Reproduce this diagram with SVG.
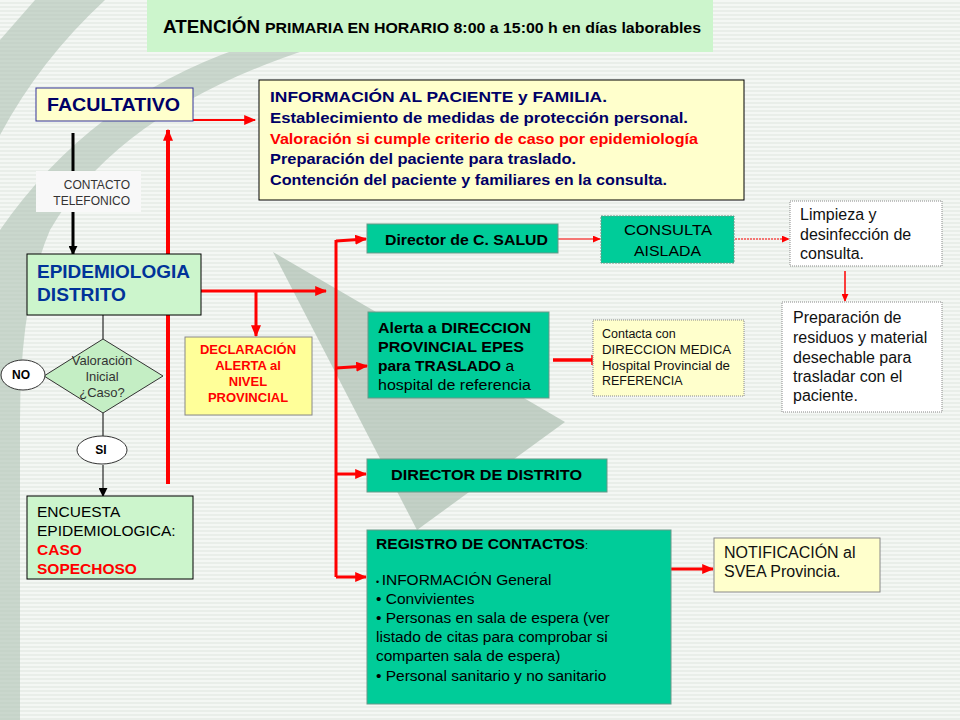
<svg xmlns="http://www.w3.org/2000/svg" width="960" height="720" viewBox="0 0 960 720">
<defs>
<pattern id="stripes" width="8" height="4" patternUnits="userSpaceOnUse">
<rect width="8" height="4" fill="#e9eee9"/>
<rect width="8" height="2" fill="#f4f7f4"/>
</pattern>
<marker id="arS" viewBox="0 0 10 10" refX="9" refY="5" markerWidth="8" markerHeight="7" orient="auto" markerUnits="userSpaceOnUse" preserveAspectRatio="none"><path d="M0,0 L10,5 L0,10 z" fill="#ff0000"/></marker>
<marker id="arR" viewBox="0 0 10 10" refX="9" refY="5" markerWidth="12" markerHeight="10" orient="auto" markerUnits="userSpaceOnUse" preserveAspectRatio="none"><path d="M0,0 L10,5 L0,10 z" fill="#ff0000"/></marker>
<marker id="arB" viewBox="0 0 10 10" refX="9" refY="5" markerWidth="9" markerHeight="9" orient="auto" markerUnits="userSpaceOnUse"><path d="M0,0 L10,5 L0,10 z" fill="#000"/></marker>
</defs>
<style>
.t{font-family:"Liberation Sans",Arial,sans-serif}
.b{font-weight:bold}
.navy{fill:#000066}
.red{fill:#ff0000}
.k{fill:#000}
.teal{fill:#00cc99;stroke:#669988;stroke-width:1}
.cr{stroke:#ff0000;fill:none}
</style>
<rect width="960" height="720" fill="url(#stripes)"/>
<g id="bg" fill="#b4c6b9" opacity="0.65">
<path d="M35,0 L105,0 Q40,60 0,135 L0,40 Z"/>
<path d="M240,48 L312,48 Q120,110 50,230 Q20,300 20,420 L20,720 L0,720 L0,230 Q90,100 240,48 Z"/>
<path d="M273,252 L565,422 L417,530 Z" fill="#a9bcae"/>
</g>
<g id="title">
<rect x="147" y="0" width="566" height="52" fill="#ccf5cc"/>
<text class="t b" x="163" y="33" font-size="19" fill="#000" textLength="97" lengthAdjust="spacingAndGlyphs">ATENCIÓN</text>
<text class="t b" x="265" y="33" font-size="15" fill="#000" textLength="436" lengthAdjust="spacingAndGlyphs">PRIMARIA EN HORARIO 8:00 a 15:00 h en días laborables</text>
</g>
<g id="connectors">
<line x1="73" y1="133" x2="73" y2="171" stroke="#000" stroke-width="3"/>
<line x1="73" y1="212" x2="73" y2="254" stroke="#000" stroke-width="3" marker-end="url(#arB)"/>
<line x1="103" y1="315" x2="103" y2="339" stroke="#000" stroke-width="1"/>
<line x1="103" y1="413" x2="103" y2="436" stroke="#000" stroke-width="1"/>
<line x1="103" y1="465" x2="103" y2="496" stroke="#000" stroke-width="1" marker-end="url(#arB)"/>
<line class="cr" x1="168" y1="484" x2="168" y2="130" stroke-width="4" marker-end="url(#arR)"/>
<line class="cr" x1="193" y1="120" x2="255" y2="120" stroke-width="2" marker-end="url(#arR)"/>
<line class="cr" x1="201" y1="291" x2="326" y2="291" stroke-width="3" marker-end="url(#arR)"/>
<line class="cr" x1="256" y1="291" x2="256" y2="336" stroke-width="3" marker-end="url(#arR)"/>
<line class="cr" x1="336" y1="240" x2="336" y2="577" stroke-width="3"/>
<line class="cr" x1="336" y1="241" x2="366" y2="239" stroke-width="3" marker-end="url(#arR)"/>
<line class="cr" x1="336" y1="368" x2="367" y2="366" stroke-width="3" marker-end="url(#arR)"/>
<line class="cr" x1="336" y1="474" x2="366" y2="474" stroke-width="3" marker-end="url(#arR)"/>
<line class="cr" x1="336" y1="577" x2="366" y2="577" stroke-width="3" marker-end="url(#arR)"/>
<line class="cr" x1="558" y1="239" x2="600" y2="239" stroke-width="1" marker-end="url(#arS)"/>
<line class="cr" x1="735" y1="239" x2="789" y2="239" stroke-width="1" stroke-dasharray="2,1" marker-end="url(#arS)"/>
<line class="cr" x1="845" y1="271" x2="845" y2="301" stroke-width="1.5" marker-end="url(#arS)"/>
<line class="cr" x1="553" y1="360" x2="592" y2="360" stroke-width="3.5"/>
<line x1="592" y1="355" x2="592" y2="365" stroke="#ff0000" stroke-width="1.5"/>
<line class="cr" x1="671" y1="569" x2="713" y2="569" stroke-width="3" marker-end="url(#arR)"/>
</g>
<g id="facultativo">
<rect x="36" y="88" width="157" height="33" fill="#ffffcc" stroke="#333399" stroke-width="1"/>
<text class="t b navy" x="47" y="111" font-size="19" textLength="133" lengthAdjust="spacingAndGlyphs">FACULTATIVO</text>
</g>
<g id="contacto">
<rect x="36" y="171" width="105" height="41" fill="#f8f8f8"/>
<text class="t" x="130" y="189" font-size="12" fill="#333" text-anchor="end">CONTACTO</text>
<text class="t" x="130" y="205" font-size="12" fill="#333" text-anchor="end">TELEFONICO</text>
</g>
<g id="informacion">
<rect x="259" y="80" width="485" height="120" fill="#ffffcc" stroke="#000" stroke-width="1"/>
<text class="t b navy" x="270" y="102" font-size="15" textLength="337" lengthAdjust="spacingAndGlyphs">INFORMACIÓN AL PACIENTE  y FAMILIA.</text>
<text class="t b navy" x="270" y="123" font-size="15" textLength="418" lengthAdjust="spacingAndGlyphs">Establecimiento de medidas de protección personal.</text>
<text class="t b red" x="270" y="144" font-size="15" textLength="428" lengthAdjust="spacingAndGlyphs">Valoración si cumple criterio de caso por epidemiología</text>
<text class="t b navy" x="270" y="164" font-size="15" textLength="306" lengthAdjust="spacingAndGlyphs">Preparación del paciente para traslado.</text>
<text class="t b navy" x="270" y="185" font-size="15" textLength="397" lengthAdjust="spacingAndGlyphs">Contención del paciente y familiares en la consulta.</text>
</g>
<g id="epidemiologia">
<rect x="27" y="254" width="174" height="61" fill="#ccf5cc" stroke="#000" stroke-width="1"/>
<text class="t b" x="37" y="278" font-size="19" fill="#003399" textLength="153" lengthAdjust="spacingAndGlyphs">EPIDEMIOLOGIA</text>
<text class="t b" x="37" y="301" font-size="19" fill="#003399" textLength="89" lengthAdjust="spacingAndGlyphs">DISTRITO</text>
</g>
<g id="valoracion">
<polygon points="103,339 163,376 103,413 44,376" fill="#c4eec4" stroke="#333" stroke-width="1"/>
<text class="t" x="102" y="365" font-size="13" fill="#333" text-anchor="middle">Valoración</text>
<text class="t" x="102" y="381" font-size="13" fill="#333" text-anchor="middle">Inicial</text>
<text class="t" x="102" y="397" font-size="13" fill="#333" text-anchor="middle">¿Caso?</text>
</g>
<g id="no">
<ellipse cx="23" cy="375" rx="22" ry="15" fill="#fff" stroke="#333" stroke-width="1"/>
<text class="t b" x="21" y="379" font-size="12" fill="#000" text-anchor="middle">NO</text>
</g>
<g id="si">
<ellipse cx="102" cy="450" rx="25" ry="14" fill="#fff" stroke="#333" stroke-width="1"/>
<text class="t b" x="101" y="454" font-size="12" fill="#000" text-anchor="middle">SI</text>
</g>
<g id="encuesta">
<rect x="27" y="496" width="166" height="83" fill="#ccf5cc" stroke="#000" stroke-width="1"/>
<text class="t" x="37" y="517" font-size="15.5" fill="#000">ENCUESTA</text>
<text class="t" x="37" y="536" font-size="15.5" fill="#000">EPIDEMIOLOGICA:</text>
<text class="t b red" x="37" y="555" font-size="15.5">CASO</text>
<text class="t b red" x="37" y="574" font-size="15.5">SOPECHOSO</text>
</g>
<g id="declaracion">
<rect x="185" y="337" width="127" height="78" fill="#ffff99" stroke="#888" stroke-width="1"/>
<text class="t b red" x="248" y="354" font-size="13" text-anchor="middle">DECLARACIÓN</text>
<text class="t b red" x="248" y="370" font-size="13" text-anchor="middle">ALERTA al</text>
<text class="t b red" x="248" y="386" font-size="13" text-anchor="middle">NIVEL</text>
<text class="t b red" x="248" y="402" font-size="13" text-anchor="middle">PROVINCIAL</text>
</g>
<g id="director-salud">
<rect class="teal" x="367" y="224" width="191" height="29" stroke="none"/>
<text class="t b k" x="385" y="245" font-size="15.5" textLength="163" lengthAdjust="spacingAndGlyphs">Director de C. SALUD</text>
</g>
<g id="consulta">
<rect class="teal" x="601" y="216" width="133" height="47" stroke-dasharray="2,1"/>
<text class="t k" x="624" y="235" font-size="15.5" textLength="88" lengthAdjust="spacingAndGlyphs">CONSULTA</text>
<text class="t k" x="634" y="256" font-size="15.5" textLength="67" lengthAdjust="spacingAndGlyphs">AISLADA</text>
</g>
<g id="limpieza">
<rect x="790" y="201" width="152" height="65" fill="#fff" stroke="#888" stroke-width="1" stroke-dasharray="1,1"/>
<text class="t" x="800" y="220" font-size="16" fill="#111">Limpieza y</text>
<text class="t" x="800" y="240" font-size="16" fill="#111">desinfección de</text>
<text class="t" x="800" y="259" font-size="16" fill="#111">consulta.</text>
</g>
<g id="preparacion">
<rect x="782" y="302" width="160" height="110" fill="#fff" stroke="#888" stroke-width="1" stroke-dasharray="1,1"/>
<text class="t" x="793" y="323" font-size="16" fill="#111">Preparación de</text>
<text class="t" x="793" y="343" font-size="16" fill="#111">residuos y material</text>
<text class="t" x="793" y="363" font-size="16" fill="#111">desechable para</text>
<text class="t" x="793" y="382" font-size="16" fill="#111">trasladar con el</text>
<text class="t" x="793" y="401" font-size="16" fill="#111">paciente.</text>
</g>
<g id="alerta">
<rect class="teal" x="368" y="312" width="181" height="86"/>
<text class="t b k" x="378" y="333" font-size="15.5" textLength="153" lengthAdjust="spacingAndGlyphs">Alerta  a DIRECCION</text>
<text class="t b k" x="378" y="352" font-size="15.5" textLength="146" lengthAdjust="spacingAndGlyphs">PROVINCIAL EPES</text>
<text class="t k" x="378" y="371" font-size="15.5"><tspan font-weight="bold">para TRASLADO</tspan> a</text>
<text class="t k" x="378" y="390" font-size="15.5" textLength="153" lengthAdjust="spacingAndGlyphs">hospital de referencia</text>
</g>
<g id="contacta">
<rect x="593" y="320" width="151" height="76" fill="#ffffcc" stroke="#888" stroke-width="1" stroke-dasharray="1,1"/>
<text class="t" x="602" y="338" font-size="12.5" fill="#111">Contacta con</text>
<text class="t" x="602" y="354" font-size="12.5" fill="#111" textLength="129" lengthAdjust="spacingAndGlyphs">DIRECCION  MEDICA</text>
<text class="t" x="602" y="370" font-size="12.5" fill="#111" textLength="128" lengthAdjust="spacingAndGlyphs">Hospital Provincial de</text>
<text class="t" x="602" y="385" font-size="12.5" fill="#111">REFERENCIA</text>
</g>
<g id="director-distrito">
<rect class="teal" x="367" y="459" width="240" height="33"/>
<text class="t b k" x="391" y="480" font-size="15.5" textLength="191" lengthAdjust="spacingAndGlyphs">DIRECTOR DE DISTRITO</text>
</g>
<g id="registro">
<rect class="teal" x="367" y="530" width="304" height="174"/>
<text class="t k" x="376" y="549" font-size="15"><tspan font-weight="bold" textLength="209" lengthAdjust="spacingAndGlyphs">REGISTRO DE CONTACTOS</tspan><tspan font-size="11">:</tspan></text>
<text class="t k" x="376" y="585" font-size="15.5"><tspan font-size="9">• </tspan>INFORMACIÓN General</text>
<text class="t k" x="376" y="604" font-size="15.5">• Convivientes</text>
<text class="t k" x="376" y="623" font-size="15.5">• Personas en sala de espera (ver</text>
<text class="t k" x="376" y="642" font-size="15.5">listado de citas para comprobar si</text>
<text class="t k" x="376" y="661" font-size="15.5">comparten sala de espera)</text>
<text class="t k" x="376" y="681" font-size="15.5">• Personal sanitario y no sanitario</text>
</g>
<g id="notificacion">
<rect x="714" y="538" width="166" height="54" fill="#ffffcc" stroke="#888" stroke-width="1"/>
<text class="t" x="724" y="558" font-size="16" fill="#111">NOTIFICACIÓN al</text>
<text class="t" x="724" y="577" font-size="16" fill="#111">SVEA Provincia.</text>
</g>
</svg>
